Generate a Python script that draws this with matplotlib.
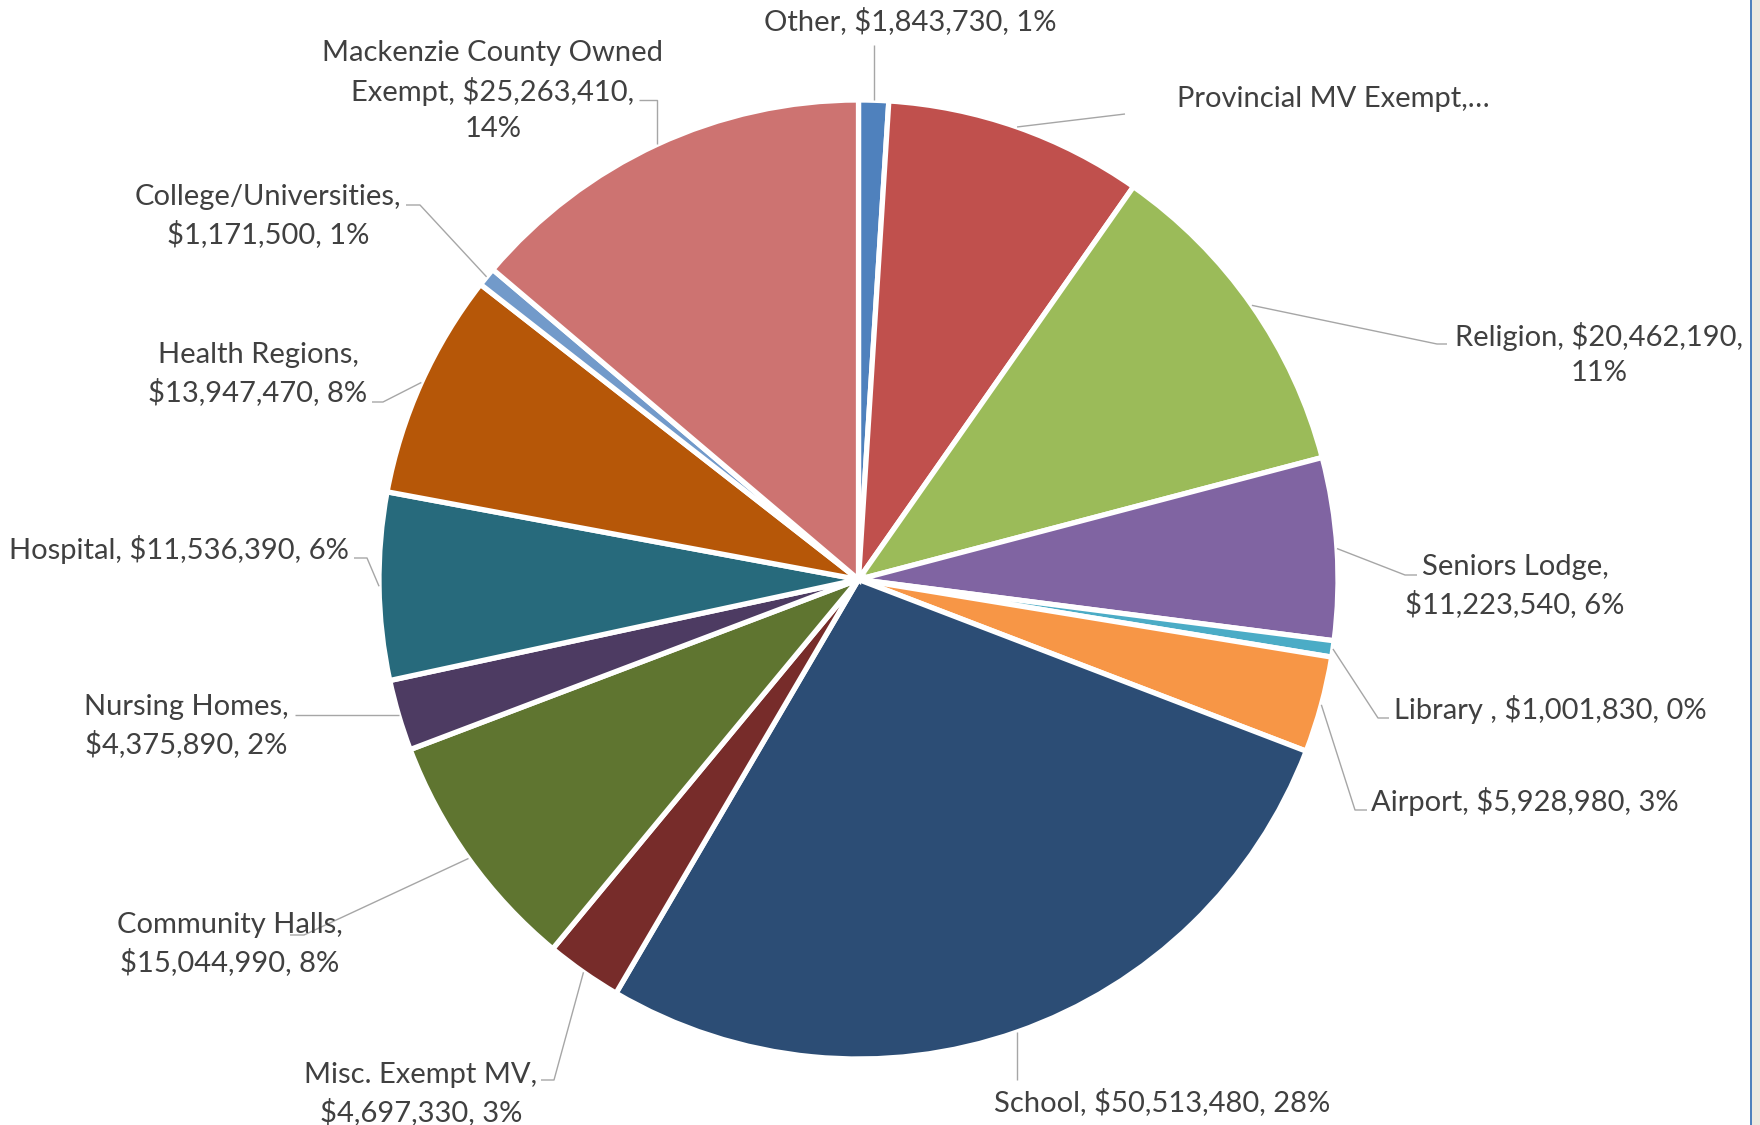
import matplotlib
matplotlib.use("Agg")
import matplotlib.pyplot as plt
import numpy as np

# ---------------- data ----------------
categories = ["Other", "Provincial MV Exempt", "Religion", "Seniors Lodge", "Library ",
              "Airport", "School", "Misc. Exempt MV", "Community Halls", "Nursing Homes",
              "Hospital", "Health Regions", "College/Universities",
              "Mackenzie County Owned\nExempt"]
values = [1843730, 15940000, 20462190, 11223540, 1001830,
          5928980, 50513480, 4697330, 15044990, 4375890,
          11536390, 13947470, 1171500, 25263410]
pct_labels = ["1%", "", "11%", "6%", "0%", "3%", "28%", "3%", "8%", "2%",
              "6%", "8%", "1%", "14%"]
colors = ["#4F81BD", "#C0504D", "#9BBB59", "#8064A2", "#4BACC6", "#F79646",
          "#2C4D75", "#772C2A", "#5F7530", "#4D3B62", "#276A7C", "#B65708",
          "#729ACA", "#CD7371"]

# ---------------- layout (pixel coordinates, y from top) ----------------
W, H = 1760, 1125
CX, CY, R = 858.5, 579.5, 479.5
wrap = ["one", "trunc", "pct", "two", "one", "one", "one", "two", "two", "two",
        "one", "two", "two", "pct"]
text_pos = [(910, 21), (1177, 99), (1599, 354), (1515, 586), (1550, 710),
            (1525, 802), (1162, 1102), (421, 1094), (230, 944), (186, 726),
            (179, 550), (258, 374), (268, 216), (493, 91)]
text_ha = ["center", "left"] + ["center"] * 12
leader_pts = [
    [(None, 45)],
    [(1125, 114)],
    [(1437, 344), (1447, 344)],
    [(1405, 575), (1417, 575)],
    [(1378, 718), (1389, 718)],
    [(1355, 810), (1367, 810)],
    [(None, 1080)],
    [(554, 1080), (541, 1080)],
    [(304, 935), (290, 935)],
    [(295, None)],
    [(367, 558), (354, 558)],
    [(383, 402), (372, 402)],
    [(420, 205), (406, 205)],
    [(None, 100), (639, 100)],
]

FONT = ["Lato", "DejaVu Sans"]
TXT = "#404040"
LEAD = "#A6A6A6"

fig = plt.figure(figsize=(W / 100, H / 100), dpi=100)
fig.patch.set_facecolor("white")
ax = fig.add_axes([0, 0, 1, 1])

wedges, _ = ax.pie(values, colors=colors, startangle=90, counterclock=False,
                   center=(CX, H - CY), radius=R,
                   wedgeprops=dict(edgecolor="white", linewidth=3.8))
ax.set_xlim(0, W)
ax.set_ylim(0, H)
ax.set_aspect("equal")
ax.axis("off")


def fmt(i):
    name = categories[i]
    val = f"${values[i]:,.0f}"
    pct = pct_labels[i]
    s = wrap[i]
    if s == "one":
        return f"{name}, {val}, {pct}"
    if s == "two":
        return f"{name},\n{val}, {pct}"
    if s == "pct":
        return f"{name}, {val},\n{pct}"
    return f"{name},\u2026"


for i, w in enumerate(wedges):
    mid = np.deg2rad((w.theta1 + w.theta2) / 2)
    ex = CX + R * np.cos(mid)
    ey = CY - R * np.sin(mid)
    xs, ys = [ex], [ey]
    for (px, py) in leader_pts[i]:
        px = xs[-1] if px is None else px
        py = ys[-1] if py is None else py
        xs.append(px)
        ys.append(py)
    ax.plot(xs, [H - y for y in ys], color=LEAD, lw=1.0, solid_capstyle="butt", zorder=3)
    tx, ty = text_pos[i]
    ax.text(tx, H - ty, fmt(i), ha=text_ha[i], va="center", multialignment="center",
            fontsize=21, color=TXT, family=FONT, linespacing=1.45, zorder=4)

# right border of the chart frame
ax.add_patch(plt.Rectangle((1752, 0), 8, H, facecolor="#ECE9E0", edgecolor="none", zorder=5))
ax.add_patch(plt.Rectangle((1750, 0), 2.2, H, facecolor="#4F81BD", edgecolor="none", zorder=6))

fig.savefig("out.png", dpi=100, facecolor="white")
